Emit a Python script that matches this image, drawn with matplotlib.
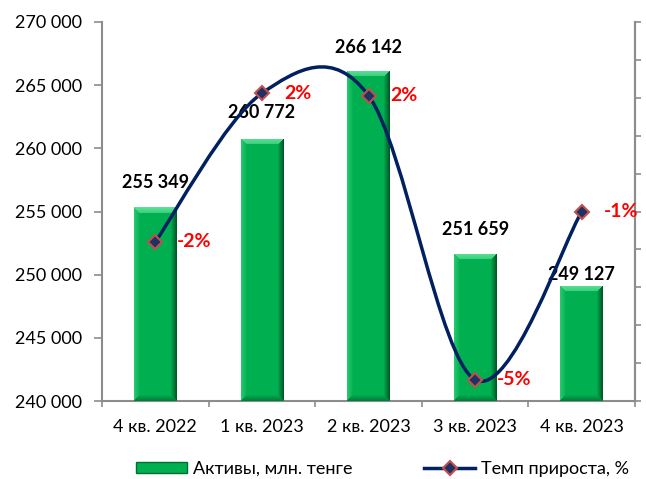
import matplotlib
matplotlib.use("Agg")
import matplotlib.pyplot as plt
import numpy as np
from matplotlib.patches import Rectangle
from matplotlib.lines import Line2D
from matplotlib.path import Path
from matplotlib.patches import PathPatch

plt.rcParams['font.family'] = ['Lato', 'Open Sans', 'DejaVu Sans']

# данные
quarters = ['4 кв. 2022', '1 кв. 2023', '2 кв. 2023', '3 кв. 2023', '4 кв. 2023']
assets = [255349, 260772, 266142, 251659, 249127]
growth = [-1.8, 2.12, 2.06, -5.44, -1.01]
growth_labels = ['-2%', '2%', '2%', '-5%', '-1%']
asset_labels = ['255 349', '260 772', '266 142', '251 659', '249 127']

W, H = 646, 479
fig = plt.figure(figsize=(W / 100, H / 100), dpi=100)
L, R, T, B = 102, 635, 22, 401
ax = fig.add_axes([L / W, 1 - B / H, (R - L) / W, (B - T) / H])

ymin, ymax = 240000, 270000
px_per_unit = (B - T) / (ymax - ymin)
bar_w = 0.4
gray = '#8c8c8c'


def bar_image(w, h, b=6):
    # зелёный столбик с фаской
    base = np.array([0, 176, 80]) / 255
    light = np.array([90, 225, 150]) / 255
    lleft = np.array([40, 200, 110]) / 255
    dark = np.array([0, 80, 35]) / 255
    img = np.tile(base, (h, w, 1))
    for yy in range(h):
        for xx in range(w):
            d = {'t': yy, 'b': h - 1 - yy, 'l': xx, 'r': w - 1 - xx}
            side = min(d, key=d.get)
            m = d[side]
            if m >= b:
                continue
            k = 1 - m / b
            if side == 't':
                c = light
                k = 0.6 + 0.4 * k
            elif side == 'b':
                c = dark
                k = 0.5 * k
            elif side == 'l':
                c = lleft
            else:
                c = dark
                k = 0.9 * k
            img[yy, xx] = base * (1 - k) + c * k
    return img


x = np.arange(len(quarters))
bars = ax.bar(x, [a - ymin for a in assets], bottom=ymin, width=bar_w,
              color='#00B050', zorder=2)
for rect in bars:
    x0, y0 = rect.get_x(), rect.get_y()
    x1, y1 = x0 + rect.get_width(), y0 + rect.get_height()
    wpx = 43
    hpx = max(int(round((y1 - y0) * px_per_unit)), 2)
    im = ax.imshow(bar_image(wpx, hpx), extent=(x0, x1, y0, y1), aspect='auto',
                   interpolation='bilinear', zorder=3)
    im.set_clip_path(rect)

label_gap = [16, 18, 15, 16, 3]
for i, a in enumerate(assets):
    ax.annotate(asset_labels[i], (x[i], a), xytext=(0, label_gap[i]),
                textcoords='offset pixels', ha='center', va='bottom',
                fontsize=13, fontweight='bold', color='black', zorder=5)

ax.set_xlim(-0.5, len(quarters) - 0.5)
ax.set_ylim(ymin, ymax)
ax.set_yticks(np.arange(ymin, ymax + 1, 5000))
ax.set_yticklabels([f'{v:,}'.replace(',', ' ') for v in range(ymin, ymax + 1, 5000)],
                   fontsize=13)
ax.set_xticks(np.arange(-0.5, len(quarters)), labels=[])
ax.set_xticks(x, labels=quarters, minor=True)
ax.tick_params(axis='x', which='minor', length=0, pad=13, labelsize=13)
ax.tick_params(axis='x', which='major', length=4.5, color=gray, width=1.2)
ax.tick_params(axis='y', length=5.5, color=gray, width=1.2, pad=9)
for s in ['left', 'bottom', 'right']:
    ax.spines[s].set_color(gray)
    ax.spines[s].set_linewidth(1.5)
ax.spines['top'].set_visible(False)

# правая ось: темп прироста
ax2 = ax.twinx()
ax2.set_ylim(-6, 4)
ax2.set_yticks(np.arange(-6, 5, 1))
ax2.set_yticklabels([])
ax2.tick_params(axis='y', length=4.5, color=gray, width=1.2)
ax2.spines['right'].set_color(gray)
ax2.spines['right'].set_linewidth(1.5)
for s in ['left', 'top', 'bottom']:
    ax2.spines[s].set_visible(False)

# сглаженная линия как в Excel
pts = np.column_stack([x, growth]).astype(float)
ext = np.vstack([pts[0], pts, pts[-1]])
verts = [tuple(pts[0])]
codes = [Path.MOVETO]
for i in range(len(pts) - 1):
    p0, p1, p2, p3 = ext[i], ext[i + 1], ext[i + 2], ext[i + 3]
    c1 = p1 + (p2 - p0) / 6
    c2 = p2 - (p3 - p1) / 6
    verts += [tuple(c1), tuple(c2), tuple(p2)]
    codes += [Path.CURVE4] * 3
ax2.add_patch(PathPatch(Path(verts, codes), facecolor='none', edgecolor='#002060',
                        linewidth=2.5, zorder=4))
ax2.plot(x, growth, linestyle='none', marker='D', markersize=7,
         markerfacecolor='#1F3064', markeredgecolor='#C0504D', markeredgewidth=1.5, zorder=5)
for i, g in enumerate(growth):
    ax2.annotate(growth_labels[i], (x[i], g), xytext=(22, 0), textcoords='offset pixels',
                 ha='left', va='center', fontsize=14, fontweight='bold', color='#FF0000',
                 zorder=6)

handles = [Rectangle((0, 0), 1, 1, facecolor='#00B050', edgecolor='#00702F', linewidth=1),
           Line2D([], [], color='#002060', linewidth=2.5, marker='D', markersize=7,
                  markerfacecolor='#1F3064', markeredgecolor='#C0504D', markeredgewidth=1.5)]
fig.legend(handles, ['Активы, млн. тенге', 'Темп прироста, %'], loc='center',
           bbox_to_anchor=(0.592, 1 - 469 / H), ncol=2, frameon=False, fontsize=13,
           handlelength=2.8, handleheight=0.55, handletextpad=0.33, columnspacing=4.0)

fig.savefig('out.png', dpi=100)
